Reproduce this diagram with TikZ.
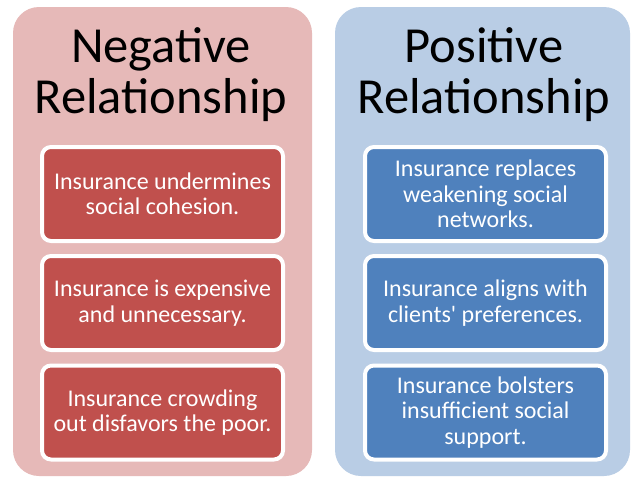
\documentclass[tikz,border=0pt]{standalone}
\usepackage{fontspec}
\setmainfont{Carlito}
\usepackage{tikz}

\definecolor{negpanel}{HTML}{E6B9B8}
\definecolor{negbox}{HTML}{C0504D}
\definecolor{pospanel}{HTML}{B9CDE5}
\definecolor{posbox}{HTML}{4F81BD}

\tikzset{
  panel/.style={rounded corners=26pt, draw=none},
  heading/.style={align=center, font=\fontsize{50.5}{51}\selectfont, text=black},
  itembox/.style={draw=white, line width=4pt, rounded corners=9pt,
    minimum width=241pt, minimum height=94pt, inner sep=0pt,
    align=center, text=white, font=\fontsize{24}{25.5}\selectfont},
}

\begin{document}
\begin{tikzpicture}[x=1pt,y=-1pt]
  \useasboundingbox[fill=white] (0,0) rectangle (632,479);

  % the two columns
  \fill[panel, negpanel] (13,7) rectangle (312,476);
  \fill[panel, pospanel] (335,7) rectangle (630,476);

  \node[heading] (neghead) at (161,75) {Negative\\Relationship};
  \node[heading] (poshead) at (484,75) {Positive\\Relationship};

  % negative side
  \node[itembox, fill=negbox] (neg1) at (162.5,194)
    {Insurance undermines\\social cohesion.};
  \node[itembox, fill=negbox] (neg2) at (162.5,303)
    {Insurance is expensive\\and unnecessary.};
  \node[itembox, fill=negbox] (neg3) at (162.5,412.5)
    {Insurance crowding\\out disfavors the poor.};

  % positive side
  \node[itembox, fill=posbox] (pos1) at (485.5,194)
    {Insurance replaces\\weakening social\\networks.};
  \node[itembox, fill=posbox] (pos2) at (485.5,303)
    {Insurance aligns with\\clients\textquotesingle\ preferences.};
  \node[itembox, fill=posbox] (pos3) at (485.5,412.5)
    {Insurance bolsters\\insufficient social\\support.};
\end{tikzpicture}
\end{document}
